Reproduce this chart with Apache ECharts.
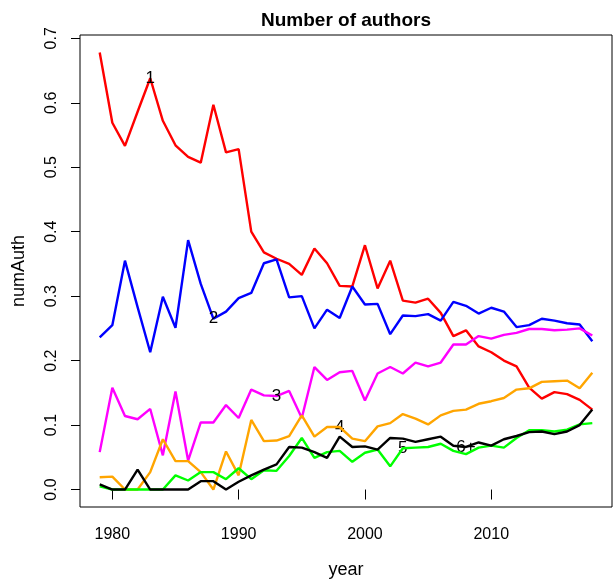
<!DOCTYPE html>
<html>
<head>
<meta charset="utf-8">
<script src="https://cdn.jsdelivr.net/npm/echarts@6/dist/echarts.min.js"></script>
<style>
  html, body { margin: 0; padding: 0; background: #fff; }
  #chart { width: 613px; height: 581px; }
</style>
</head>
<body>
<div id="chart"></div>
<script>
// Share of papers by number of authors, per year
const years = [];
for (let y = 1979; y <= 2018; y++) years.push(y);

const one = [
  0.678, 0.569, 0.533, 0.586, 0.638, 0.572, 0.534, 0.516, 0.507, 0.597,
  0.523, 0.528, 0.400, 0.368, 0.358, 0.350, 0.333, 0.374, 0.351, 0.316,
  0.315, 0.379, 0.312, 0.355, 0.293, 0.290, 0.296, 0.274, 0.238, 0.247,
  0.222, 0.213, 0.200, 0.191, 0.158, 0.141, 0.151, 0.148, 0.139, 0.124
];
const two = [
  0.236, 0.255, 0.355, 0.283, 0.213, 0.299, 0.251, 0.387, 0.319, 0.265,
  0.276, 0.297, 0.305, 0.351, 0.357, 0.298, 0.300, 0.250, 0.279, 0.266,
  0.315, 0.287, 0.288, 0.241, 0.270, 0.269, 0.272, 0.262, 0.291, 0.285,
  0.273, 0.282, 0.276, 0.252, 0.255, 0.265, 0.262, 0.258, 0.256, 0.230
];
const three = [
  0.058, 0.158, 0.114, 0.109, 0.125, 0.053, 0.152, 0.045, 0.104, 0.104,
  0.131, 0.111, 0.155, 0.146, 0.145, 0.153, 0.111, 0.190, 0.170, 0.182,
  0.184, 0.138, 0.180, 0.190, 0.180, 0.197, 0.191, 0.197, 0.225, 0.225,
  0.238, 0.234, 0.240, 0.243, 0.249, 0.249, 0.247, 0.248, 0.250, 0.239
];
const four = [
  0.019, 0.020, 0.000, 0.000, 0.027, 0.078, 0.044, 0.044, 0.027, 0.000,
  0.059, 0.022, 0.108, 0.075, 0.076, 0.083, 0.115, 0.082, 0.097, 0.097,
  0.079, 0.075, 0.098, 0.103, 0.117, 0.110, 0.101, 0.115, 0.122, 0.124,
  0.133, 0.137, 0.142, 0.155, 0.157, 0.167, 0.168, 0.169, 0.157, 0.181
];
const five = [
  0.005, 0.000, 0.000, 0.000, 0.000, 0.000, 0.022, 0.014, 0.027, 0.027,
  0.016, 0.033, 0.016, 0.030, 0.029, 0.052, 0.080, 0.049, 0.058, 0.060,
  0.043, 0.057, 0.062, 0.036, 0.064, 0.065, 0.066, 0.071, 0.060, 0.055,
  0.065, 0.068, 0.065, 0.080, 0.092, 0.092, 0.090, 0.093, 0.101, 0.103
];
const sixPlus = [
  0.008, 0.000, 0.000, 0.031, 0.000, 0.000, 0.000, 0.000, 0.013, 0.013,
  0.000, 0.012, 0.022, 0.031, 0.039, 0.066, 0.065, 0.058, 0.049, 0.082,
  0.066, 0.067, 0.062, 0.080, 0.079, 0.074, 0.078, 0.082, 0.068, 0.066,
  0.073, 0.068, 0.078, 0.083, 0.089, 0.090, 0.086, 0.090, 0.100, 0.124
];

const seriesNames = ['1', '2', '3', '4', '5', '6+'];
const seriesValues = [one, two, three, four, five, sixPlus];
const seriesColors = ['#ff0000', '#0000ff', '#ff00ff', '#ffa500', '#00ff00', '#000000'];
// year at which each curve carries its in-line label
const labelYears = [1983, 1988, 1993, 1998, 2003, 2008];

const xTicks = [1980, 1990, 2000, 2010];
const yTicks = [0, 0.1, 0.2, 0.3, 0.4, 0.5, 0.6, 0.7];

// axis ranges padded by 4% like base graphics
const xMin = 1979, xMax = 2018;
const xPad = (xMax - xMin) * 0.04;
const yMinData = 0, yMaxData = 0.678;
const yPad = (yMaxData - yMinData) * 0.04;

const FONT = 'Liberation Sans, Arial, Helvetica, sans-serif';

const series = seriesValues.map((vals, i) => {
  const idx = years.indexOf(labelYears[i]);
  return {
    name: seriesNames[i],
    type: 'line',
    data: years.map((y, k) => [y, vals[k]]),
    showSymbol: false,
    symbol: 'none',
    lineStyle: { color: seriesColors[i], width: 2.4 },
    itemStyle: { color: seriesColors[i] },
    z: 2 + i,
    markPoint: {
      symbol: 'rect',
      symbolSize: [1, 1],
      itemStyle: { color: 'rgba(0,0,0,0)' },
      silent: true,
      data: [{ coord: [labelYears[i], vals[idx]], value: seriesNames[i] }],
      label: {
        show: true,
        position: 'inside',
        formatter: seriesNames[i],
        color: '#000',
        fontFamily: FONT,
        fontSize: 17
      }
    }
  };
});

const chart = echarts.init(document.getElementById('chart'), null, { renderer: 'canvas' });
chart.setOption({
  animation: false,
  backgroundColor: '#ffffff',
  title: {
    text: 'Number of authors',
    left: 341,
    top: 6,
    textAlign: 'center',
    textStyle: { fontFamily: FONT, fontWeight: 'bold', fontSize: 19, color: '#000' }
  },
  grid: {
    left: 80, right: 1, top: 35, bottom: 74,
    outerBoundsMode: 'none',
    containLabel: false,
    show: true, borderColor: '#000', borderWidth: 1, backgroundColor: 'transparent'
  },
  xAxis: {
    type: 'value',
    min: xMin - xPad,
    max: xMax + xPad,
    name: 'year',
    nameLocation: 'middle',
    nameGap: 54,
    nameTextStyle: { fontFamily: FONT, fontSize: 18, color: '#000' },
    axisLine: { show: false },
    splitLine: { show: false },
    axisTick: { show: true, inside: false, length: 10, lineStyle: { color: '#000' }, customValues: xTicks },
    axisLabel: {
      fontFamily: FONT, fontSize: 16, color: '#000', margin: 20,
      customValues: xTicks,
      formatter: v => String(Math.round(v))
    }
  },
  yAxis: {
    type: 'value',
    min: yMinData - yPad,
    max: yMaxData + yPad,
    name: 'numAuth',
    nameLocation: 'middle',
    nameRotate: 90,
    nameGap: 52,
    nameTextStyle: { fontFamily: FONT, fontSize: 18, color: '#000' },
    axisLine: { show: false },
    splitLine: { show: false },
    axisTick: { show: true, inside: false, length: 9, lineStyle: { color: '#000' }, customValues: yTicks },
    axisLabel: {
      fontFamily: FONT, fontSize: 16, color: '#000', margin: 20, rotate: 90,
      customValues: yTicks,
      formatter: v => v.toFixed(1)
    }
  },
  series: series
});
</script>
</body>
</html>
